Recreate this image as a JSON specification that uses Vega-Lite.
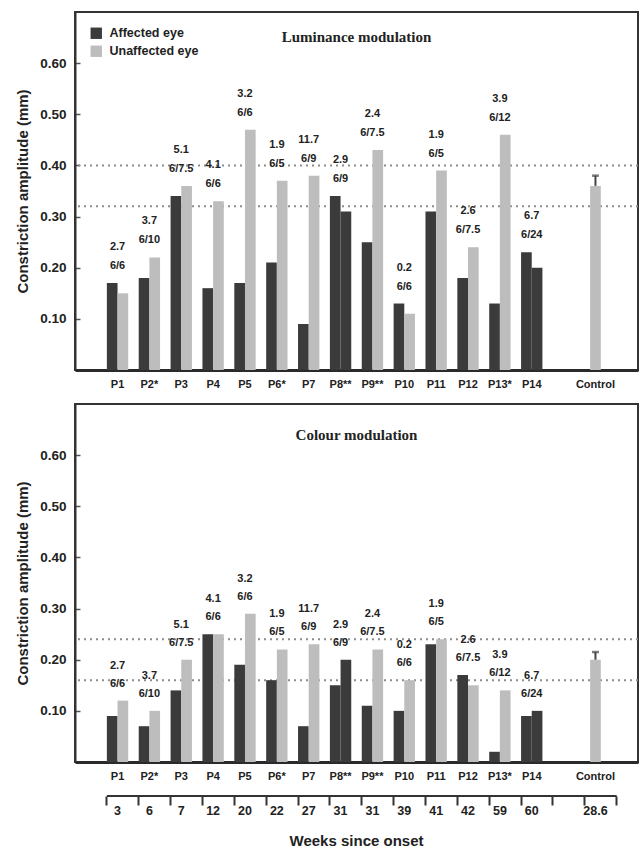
{
  "$schema": "https://vega.github.io/schema/vega-lite/v6.json",
  "padding": {"left": 14, "top": 11, "right": 0, "bottom": 0},
  "background": "white",
  "spacing": 13,
  "config": {
    "font": "Liberation Sans",
    "view": {"stroke": "#333", "strokeWidth": 2},
    "axis": {"labelFont": "Liberation Sans", "labelFontWeight": "bold", "labelColor": "#222", "titleFont": "Liberation Sans", "titleFontWeight": "bold", "titleColor": "#222", "grid": false, "domainColor": "#333"},
    "text": {"font": "Liberation Sans", "fontWeight": "bold", "fontSize": 11, "color": "#222"}
  },
  "datasets": {
    "lum": [
      {"p": "P1", "side": 1, "eye": "Affected eye", "v": 0.17},
      {"p": "P1", "side": 2, "eye": "Unaffected eye", "v": 0.15},
      {"p": "P2*", "side": 1, "eye": "Affected eye", "v": 0.18},
      {"p": "P2*", "side": 2, "eye": "Unaffected eye", "v": 0.22},
      {"p": "P3", "side": 1, "eye": "Affected eye", "v": 0.34},
      {"p": "P3", "side": 2, "eye": "Unaffected eye", "v": 0.36},
      {"p": "P4", "side": 1, "eye": "Affected eye", "v": 0.16},
      {"p": "P4", "side": 2, "eye": "Unaffected eye", "v": 0.33},
      {"p": "P5", "side": 1, "eye": "Affected eye", "v": 0.17},
      {"p": "P5", "side": 2, "eye": "Unaffected eye", "v": 0.47},
      {"p": "P6*", "side": 1, "eye": "Affected eye", "v": 0.21},
      {"p": "P6*", "side": 2, "eye": "Unaffected eye", "v": 0.37},
      {"p": "P7", "side": 1, "eye": "Affected eye", "v": 0.09},
      {"p": "P7", "side": 2, "eye": "Unaffected eye", "v": 0.38},
      {"p": "P8**", "side": 1, "eye": "Affected eye", "v": 0.34},
      {"p": "P8**", "side": 2, "eye": "Affected eye", "v": 0.31},
      {"p": "P9**", "side": 1, "eye": "Affected eye", "v": 0.25},
      {"p": "P9**", "side": 2, "eye": "Unaffected eye", "v": 0.43},
      {"p": "P10", "side": 1, "eye": "Affected eye", "v": 0.13},
      {"p": "P10", "side": 2, "eye": "Unaffected eye", "v": 0.11},
      {"p": "P11", "side": 1, "eye": "Affected eye", "v": 0.31},
      {"p": "P11", "side": 2, "eye": "Unaffected eye", "v": 0.39},
      {"p": "P12", "side": 1, "eye": "Affected eye", "v": 0.18},
      {"p": "P12", "side": 2, "eye": "Unaffected eye", "v": 0.24},
      {"p": "P13*", "side": 1, "eye": "Affected eye", "v": 0.13},
      {"p": "P13*", "side": 2, "eye": "Unaffected eye", "v": 0.46},
      {"p": "P14", "side": 1, "eye": "Affected eye", "v": 0.23},
      {"p": "P14", "side": 2, "eye": "Affected eye", "v": 0.20},
      {"p": "Control", "side": 2, "eye": "Unaffected eye", "v": 0.36, "hi": 0.38}
    ],
    "col": [
      {"p": "P1", "side": 1, "eye": "Affected eye", "v": 0.09},
      {"p": "P1", "side": 2, "eye": "Unaffected eye", "v": 0.12},
      {"p": "P2*", "side": 1, "eye": "Affected eye", "v": 0.07},
      {"p": "P2*", "side": 2, "eye": "Unaffected eye", "v": 0.10},
      {"p": "P3", "side": 1, "eye": "Affected eye", "v": 0.14},
      {"p": "P3", "side": 2, "eye": "Unaffected eye", "v": 0.20},
      {"p": "P4", "side": 1, "eye": "Affected eye", "v": 0.25},
      {"p": "P4", "side": 2, "eye": "Unaffected eye", "v": 0.25},
      {"p": "P5", "side": 1, "eye": "Affected eye", "v": 0.19},
      {"p": "P5", "side": 2, "eye": "Unaffected eye", "v": 0.29},
      {"p": "P6*", "side": 1, "eye": "Affected eye", "v": 0.16},
      {"p": "P6*", "side": 2, "eye": "Unaffected eye", "v": 0.22},
      {"p": "P7", "side": 1, "eye": "Affected eye", "v": 0.07},
      {"p": "P7", "side": 2, "eye": "Unaffected eye", "v": 0.23},
      {"p": "P8**", "side": 1, "eye": "Affected eye", "v": 0.15},
      {"p": "P8**", "side": 2, "eye": "Affected eye", "v": 0.20},
      {"p": "P9**", "side": 1, "eye": "Affected eye", "v": 0.11},
      {"p": "P9**", "side": 2, "eye": "Unaffected eye", "v": 0.22},
      {"p": "P10", "side": 1, "eye": "Affected eye", "v": 0.10},
      {"p": "P10", "side": 2, "eye": "Unaffected eye", "v": 0.16},
      {"p": "P11", "side": 1, "eye": "Affected eye", "v": 0.23},
      {"p": "P11", "side": 2, "eye": "Unaffected eye", "v": 0.24},
      {"p": "P12", "side": 1, "eye": "Affected eye", "v": 0.17},
      {"p": "P12", "side": 2, "eye": "Unaffected eye", "v": 0.15},
      {"p": "P13*", "side": 1, "eye": "Affected eye", "v": 0.02},
      {"p": "P13*", "side": 2, "eye": "Unaffected eye", "v": 0.14},
      {"p": "P14", "side": 1, "eye": "Affected eye", "v": 0.09},
      {"p": "P14", "side": 2, "eye": "Affected eye", "v": 0.10},
      {"p": "Control", "side": 2, "eye": "Unaffected eye", "v": 0.20, "hi": 0.215}
    ],
    "ann": [
      {"p": "P1", "score": "2.7", "va": "6/6", "weeks": "3"},
      {"p": "P2*", "score": "3.7", "va": "6/10", "weeks": "6"},
      {"p": "P3", "score": "5.1", "va": "6/7.5", "weeks": "7"},
      {"p": "P4", "score": "4.1", "va": "6/6", "weeks": "12"},
      {"p": "P5", "score": "3.2", "va": "6/6", "weeks": "20"},
      {"p": "P6*", "score": "1.9", "va": "6/5", "weeks": "22"},
      {"p": "P7", "score": "11.7", "va": "6/9", "weeks": "27"},
      {"p": "P8**", "score": "2.9", "va": "6/9", "weeks": "31"},
      {"p": "P9**", "score": "2.4", "va": "6/7.5", "weeks": "31"},
      {"p": "P10", "score": "0.2", "va": "6/6", "weeks": "39"},
      {"p": "P11", "score": "1.9", "va": "6/5", "weeks": "41"},
      {"p": "P12", "score": "2.6", "va": "6/7.5", "weeks": "42"},
      {"p": "P13*", "score": "3.9", "va": "6/12", "weeks": "59"},
      {"p": "P14", "score": "6.7", "va": "6/24", "weeks": "60"},
      {"p": "Control", "weeks": "28.6"}
    ],
    "refs": [
      {"panel": "lum", "level": 0.32},
      {"panel": "lum", "level": 0.40},
      {"panel": "col", "level": 0.16},
      {"panel": "col", "level": 0.24}
    ]
  },
  "resolve": {"scale": {"color": "independent"}, "legend": {"color": "independent"}},
  "vconcat": [
    {
      "width": 563,
      "height": 358,
      "title": {"text": "Luminance modulation", "font": "Liberation Serif", "fontSize": 15, "fontWeight": "bold", "color": "#222", "anchor": "middle", "frame": "group", "baseline": "top", "offset": 0, "dy": 33},
      "layer": [
        {
          "data": {"name": "refs"},
          "transform": [{"filter": "datum.panel == 'lum'"}],
          "mark": {"type": "rule", "strokeDash": [2, 4], "strokeWidth": 2, "color": "#8c8c8c"},
          "encoding": {
            "y": {"field": "level", "type": "quantitative", "scale": {"domain": [0, 0.7], "nice": false}, "title": "Constriction amplitude (mm)"}
          }
        },
        {
          "data": {"name": "lum"},
          "transform": [{"filter": "datum.p != 'Control'"}],
          "mark": {"type": "bar"},
          "encoding": {
            "x": {"field": "p", "type": "nominal", "title": null, "scale": {"domain": [" ", "P1", "P2*", "P3", "P4", "P5", "P6*", "P7", "P8**", "P9**", "P10", "P11", "P12", "P13*", "P14", "  ", "Control", "   "], "paddingInner": 0.33, "paddingOuter": 0}, "axis": {"title": null, "ticks": false, "labelAngle": 0, "labelFontSize": 11, "labelPadding": 8, "domainWidth": 3, "domainColor": "#2a2a2a"}},
            "xOffset": {"field": "side", "type": "nominal", "scale": {"paddingInner": 0, "paddingOuter": 0}},
            "y": {"field": "v", "type": "quantitative", "title": "Constriction amplitude (mm)", "scale": {"domain": [0, 0.7], "nice": false}, "axis": {"values": [0.1, 0.2, 0.3, 0.4, 0.5, 0.6], "format": ".2f", "labelFontSize": 13.5, "titleFontSize": 15, "tickSize": -5, "tickColor": "#555", "tickWidth": 1.5, "labelPadding": 14, "titlePadding": 9, "domainWidth": 2}},
            "color": {"field": "eye", "type": "nominal", "scale": {"domain": ["Affected eye", "Unaffected eye"], "range": ["#3b3b3b", "#bdbdbd"]}, "legend": {"title": null, "orient": "top-left", "offset": 15, "padding": 0, "symbolType": "square", "symbolSize": 130, "symbolStrokeWidth": 0, "labelFont": "Liberation Sans", "labelFontSize": 12.5, "labelFontWeight": "bold", "labelColor": "#222", "labelOffset": 7, "rowPadding": 5}}
          }
        },
        {
          "data": {"name": "lum"},
          "transform": [{"filter": "datum.p == 'Control'"}],
          "mark": {"type": "bar", "width": {"band": 0.5}, "color": "#bdbdbd"},
          "encoding": {
            "x": {"field": "p", "type": "nominal", "title": null, "scale": {"domain": [" ", "P1", "P2*", "P3", "P4", "P5", "P6*", "P7", "P8**", "P9**", "P10", "P11", "P12", "P13*", "P14", "  ", "Control", "   "], "paddingInner": 0.33, "paddingOuter": 0}},
            "y": {"field": "v", "type": "quantitative", "title": "Constriction amplitude (mm)", "scale": {"domain": [0, 0.7], "nice": false}}
          }
        },
        {
          "data": {"name": "lum"},
          "transform": [{"filter": "datum.p == 'Control'"}],
          "mark": {"type": "rule", "color": "#444", "strokeWidth": 2},
          "encoding": {
            "x": {"field": "p", "type": "nominal", "title": null, "scale": {"domain": [" ", "P1", "P2*", "P3", "P4", "P5", "P6*", "P7", "P8**", "P9**", "P10", "P11", "P12", "P13*", "P14", "  ", "Control", "   "], "paddingInner": 0.33, "paddingOuter": 0}},
            "y": {"field": "v", "type": "quantitative", "title": "Constriction amplitude (mm)", "scale": {"domain": [0, 0.7], "nice": false}},
            "y2": {"field": "hi"}
          }
        },
        {
          "data": {"name": "lum"},
          "transform": [{"filter": "datum.p == 'Control'"}],
          "mark": {"type": "tick", "orient": "horizontal", "size": 7, "thickness": 2.5, "color": "#444"},
          "encoding": {
            "x": {"field": "p", "type": "nominal", "title": null, "scale": {"domain": [" ", "P1", "P2*", "P3", "P4", "P5", "P6*", "P7", "P8**", "P9**", "P10", "P11", "P12", "P13*", "P14", "  ", "Control", "   "], "paddingInner": 0.33, "paddingOuter": 0}},
            "y": {"field": "hi", "type": "quantitative", "title": "Constriction amplitude (mm)", "scale": {"domain": [0, 0.7], "nice": false}}
          }
        },
        {
          "data": {"name": "lum"},
          "transform": [
            {"joinaggregate": [{"op": "max", "field": "v", "as": "top"}], "groupby": ["p"]},
            {"filter": "datum.side == 1"},
            {"lookup": "p", "from": {"data": {"name": "ann"}, "key": "p", "fields": ["score", "va"]}}
          ],
          "mark": {"type": "text", "dy": -17, "baseline": "middle"},
          "encoding": {
            "x": {"field": "p", "type": "nominal", "title": null, "scale": {"domain": [" ", "P1", "P2*", "P3", "P4", "P5", "P6*", "P7", "P8**", "P9**", "P10", "P11", "P12", "P13*", "P14", "  ", "Control", "   "], "paddingInner": 0.33, "paddingOuter": 0}},
            "y": {"field": "top", "type": "quantitative", "title": "Constriction amplitude (mm)", "scale": {"domain": [0, 0.7], "nice": false}},
            "text": {"field": "va"}
          }
        },
        {
          "data": {"name": "lum"},
          "transform": [
            {"joinaggregate": [{"op": "max", "field": "v", "as": "top"}], "groupby": ["p"]},
            {"filter": "datum.side == 1"},
            {"lookup": "p", "from": {"data": {"name": "ann"}, "key": "p", "fields": ["score", "va"]}}
          ],
          "mark": {"type": "text", "dy": -36, "baseline": "middle"},
          "encoding": {
            "x": {"field": "p", "type": "nominal", "title": null, "scale": {"domain": [" ", "P1", "P2*", "P3", "P4", "P5", "P6*", "P7", "P8**", "P9**", "P10", "P11", "P12", "P13*", "P14", "  ", "Control", "   "], "paddingInner": 0.33, "paddingOuter": 0}},
            "y": {"field": "top", "type": "quantitative", "title": "Constriction amplitude (mm)", "scale": {"domain": [0, 0.7], "nice": false}},
            "text": {"field": "score"}
          }
        }
      ]
    },
    {
      "width": 563,
      "height": 358,
      "title": {"text": "Colour modulation", "font": "Liberation Serif", "fontSize": 15, "fontWeight": "bold", "color": "#222", "anchor": "middle", "frame": "group", "baseline": "top", "offset": 0, "dy": 39},
      "layer": [
        {
          "data": {"name": "refs"},
          "transform": [{"filter": "datum.panel == 'col'"}],
          "mark": {"type": "rule", "strokeDash": [2, 4], "strokeWidth": 2, "color": "#8c8c8c"},
          "encoding": {
            "y": {"field": "level", "type": "quantitative", "scale": {"domain": [0, 0.7], "nice": false}, "title": "Constriction amplitude (mm)"}
          }
        },
        {
          "data": {"name": "col"},
          "transform": [{"filter": "datum.p != 'Control'"}],
          "mark": {"type": "bar"},
          "encoding": {
            "x": {"field": "p", "type": "nominal", "title": null, "scale": {"domain": [" ", "P1", "P2*", "P3", "P4", "P5", "P6*", "P7", "P8**", "P9**", "P10", "P11", "P12", "P13*", "P14", "  ", "Control", "   "], "paddingInner": 0.33, "paddingOuter": 0}, "axis": {"title": null, "ticks": false, "labelAngle": 0, "labelFontSize": 11, "labelPadding": 8, "domainWidth": 3, "domainColor": "#2a2a2a"}},
            "xOffset": {"field": "side", "type": "nominal", "scale": {"paddingInner": 0, "paddingOuter": 0}},
            "y": {"field": "v", "type": "quantitative", "title": "Constriction amplitude (mm)", "scale": {"domain": [0, 0.7], "nice": false}, "axis": {"values": [0.1, 0.2, 0.3, 0.4, 0.5, 0.6], "format": ".2f", "labelFontSize": 13.5, "titleFontSize": 15, "tickSize": -5, "tickColor": "#555", "tickWidth": 1.5, "labelPadding": 14, "titlePadding": 9, "domainWidth": 2}},
            "color": {"field": "eye", "type": "nominal", "scale": {"domain": ["Affected eye", "Unaffected eye"], "range": ["#3b3b3b", "#bdbdbd"]}, "legend": null}
          }
        },
        {
          "data": {"name": "col"},
          "transform": [{"filter": "datum.p == 'Control'"}],
          "mark": {"type": "bar", "width": {"band": 0.5}, "color": "#bdbdbd"},
          "encoding": {
            "x": {"field": "p", "type": "nominal", "title": null, "scale": {"domain": [" ", "P1", "P2*", "P3", "P4", "P5", "P6*", "P7", "P8**", "P9**", "P10", "P11", "P12", "P13*", "P14", "  ", "Control", "   "], "paddingInner": 0.33, "paddingOuter": 0}},
            "y": {"field": "v", "type": "quantitative", "title": "Constriction amplitude (mm)", "scale": {"domain": [0, 0.7], "nice": false}}
          }
        },
        {
          "data": {"name": "col"},
          "transform": [{"filter": "datum.p == 'Control'"}],
          "mark": {"type": "rule", "color": "#444", "strokeWidth": 2},
          "encoding": {
            "x": {"field": "p", "type": "nominal", "title": null, "scale": {"domain": [" ", "P1", "P2*", "P3", "P4", "P5", "P6*", "P7", "P8**", "P9**", "P10", "P11", "P12", "P13*", "P14", "  ", "Control", "   "], "paddingInner": 0.33, "paddingOuter": 0}},
            "y": {"field": "v", "type": "quantitative", "title": "Constriction amplitude (mm)", "scale": {"domain": [0, 0.7], "nice": false}},
            "y2": {"field": "hi"}
          }
        },
        {
          "data": {"name": "col"},
          "transform": [{"filter": "datum.p == 'Control'"}],
          "mark": {"type": "tick", "orient": "horizontal", "size": 7, "thickness": 2.5, "color": "#444"},
          "encoding": {
            "x": {"field": "p", "type": "nominal", "title": null, "scale": {"domain": [" ", "P1", "P2*", "P3", "P4", "P5", "P6*", "P7", "P8**", "P9**", "P10", "P11", "P12", "P13*", "P14", "  ", "Control", "   "], "paddingInner": 0.33, "paddingOuter": 0}},
            "y": {"field": "hi", "type": "quantitative", "title": "Constriction amplitude (mm)", "scale": {"domain": [0, 0.7], "nice": false}}
          }
        },
        {
          "data": {"name": "col"},
          "transform": [
            {"joinaggregate": [{"op": "max", "field": "v", "as": "top"}], "groupby": ["p"]},
            {"filter": "datum.side == 1"},
            {"lookup": "p", "from": {"data": {"name": "ann"}, "key": "p", "fields": ["score", "va"]}}
          ],
          "mark": {"type": "text", "dy": -17, "baseline": "middle"},
          "encoding": {
            "x": {"field": "p", "type": "nominal", "title": null, "scale": {"domain": [" ", "P1", "P2*", "P3", "P4", "P5", "P6*", "P7", "P8**", "P9**", "P10", "P11", "P12", "P13*", "P14", "  ", "Control", "   "], "paddingInner": 0.33, "paddingOuter": 0}},
            "y": {"field": "top", "type": "quantitative", "title": "Constriction amplitude (mm)", "scale": {"domain": [0, 0.7], "nice": false}},
            "text": {"field": "va"}
          }
        },
        {
          "data": {"name": "col"},
          "transform": [
            {"joinaggregate": [{"op": "max", "field": "v", "as": "top"}], "groupby": ["p"]},
            {"filter": "datum.side == 1"},
            {"lookup": "p", "from": {"data": {"name": "ann"}, "key": "p", "fields": ["score", "va"]}}
          ],
          "mark": {"type": "text", "dy": -35, "baseline": "middle"},
          "encoding": {
            "x": {"field": "p", "type": "nominal", "title": null, "scale": {"domain": [" ", "P1", "P2*", "P3", "P4", "P5", "P6*", "P7", "P8**", "P9**", "P10", "P11", "P12", "P13*", "P14", "  ", "Control", "   "], "paddingInner": 0.33, "paddingOuter": 0}},
            "y": {"field": "top", "type": "quantitative", "title": "Constriction amplitude (mm)", "scale": {"domain": [0, 0.7], "nice": false}},
            "text": {"field": "score"}
          }
        }
      ]
    },
    {
      "width": 563,
      "height": 30,
      "view": {"stroke": null},
      "title": {"text": "Weeks since onset", "orient": "bottom", "anchor": "middle", "frame": "group", "font": "Liberation Sans", "fontSize": 15, "fontWeight": "bold", "color": "#222", "offset": 8},
      "layer": [
        {
          "data": {"values": [{}]},
          "mark": {"type": "rule", "color": "#333", "strokeWidth": 2},
          "encoding": {
            "x": {"datum": "P1", "type": "nominal", "bandPosition": 0, "scale": {"domain": [" ", "P1", "P2*", "P3", "P4", "P5", "P6*", "P7", "P8**", "P9**", "P10", "P11", "P12", "P13*", "P14", "  ", "Control", "   "], "paddingInner": 0.33, "paddingOuter": 0}, "axis": {"orient": "top", "title": null, "domain": false, "labels": false, "ticks": true, "tickSize": -9, "tickWidth": 2, "tickColor": "#333", "bandPosition": 0, "values": ["P1", "P2*", "P3", "P4", "P5", "P6*", "P7", "P8**", "P9**", "P10", "P11", "P12", "P13*", "P14", "  ", "Control", "   "]}},
            "x2": {"datum": "   ", "bandPosition": 0},
            "y": {"datum": 1, "type": "quantitative", "scale": {"domain": [0, 1]}, "axis": null}
          }
        },
        {
          "data": {"name": "ann"},
          "mark": {"type": "text", "fontSize": 12.5},
          "encoding": {
            "x": {"field": "p", "type": "nominal", "title": null, "scale": {"domain": [" ", "P1", "P2*", "P3", "P4", "P5", "P6*", "P7", "P8**", "P9**", "P10", "P11", "P12", "P13*", "P14", "  ", "Control", "   "], "paddingInner": 0.33, "paddingOuter": 0}, "axis": {"orient": "top", "title": null, "domain": false, "labels": false, "ticks": true, "tickSize": -9, "tickWidth": 2, "tickColor": "#333", "bandPosition": 0, "values": ["P1", "P2*", "P3", "P4", "P5", "P6*", "P7", "P8**", "P9**", "P10", "P11", "P12", "P13*", "P14", "  ", "Control", "   "]}},
            "text": {"field": "weeks"}
          }
        }
      ]
    }
  ]
}
